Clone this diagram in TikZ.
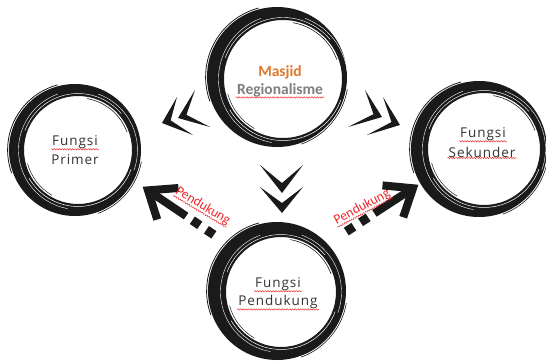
\documentclass[tikz,border=0pt]{standalone}
\usepackage{fontspec}
\setmainfont{Open Sans}
\newfontfamily\fungsifont[LetterSpace=7]{Open Sans}
\newfontfamily\calfont{Carlito}
\usetikzlibrary{decorations.pathmorphing}

\definecolor{inkblack}{HTML}{1A1A1A}
\definecolor{titleorange}{HTML}{E0782A}
\definecolor{titlegray}{HTML}{7F7F7F}
\definecolor{labelred}{HTML}{F0282D}
\definecolor{textgray}{HTML}{333333}

% brush-stroke ring: outer circle (#1,#2) radius #3, hole (#4,#5) radius #6
\newcommand\brushring[6]{%
  \fill[inkblack, even odd rule] (#1,#2) circle[radius=#3] (#4,#5) circle[radius=#6];
  \pgfmathsetmacro\rra{#6+2.5}%
  \pgfmathsetmacro\rrb{#6+5.5}%
  \pgfmathsetmacro\rrc{#6-1.8}%
  \pgfmathsetmacro\rrd{#3+1.4}%
  \draw[white, line width=0.5] (#4,#5) ++(20:\rra) arc[start angle=20, end angle=150, radius=\rra];
  \draw[white, line width=0.45] (#4,#5) ++(200:\rra) arc[start angle=200, end angle=320, radius=\rra];
  \draw[white, line width=0.4] (#4,#5) ++(100:\rrb) arc[start angle=100, end angle=250, radius=\rrb];
  \draw[white, line width=0.4] (#4,#5) ++(290:\rrb) arc[start angle=290, end angle=380, radius=\rrb];
  \draw[inkblack, line width=0.6] (#4,#5) ++(280:\rrc) arc[start angle=280, end angle=340, radius=\rrc];
  \draw[inkblack, line width=0.5] (#4,#5) ++(120:\rrc) arc[start angle=120, end angle=165, radius=\rrc];
  \draw[inkblack, line width=0.8] (#1,#2) ++(160:\rrd) arc[start angle=160, end angle=255, radius=\rrd];
  \draw[inkblack, line width=0.6] (#1,#2) ++(10:\rrd) arc[start angle=10, end angle=70, radius=\rrd];
}

\tikzset{
  fungsi/.style={font=\fungsifont\fontsize{13.5}{15}\selectfont, text=textgray, inner sep=1pt},
  spell/.style={draw=labelred, line width=0.45pt,
    decorate, decoration={snake, amplitude=0.7pt, segment length=2.6pt}},
  pendukung/.style={font=\calfont\fontsize{13.5}{15}\selectfont, text=labelred, inner sep=0.5pt},
  dotarrow/.pic={
    \draw[inkblack, line width=8, line join=miter, line cap=butt]
      (-30,-19) -- (-6,0) -- (-30,19);
    \draw[inkblack, line width=8, line cap=butt] (-8,0) -- (-52,0);
    \fill[inkblack] (-64,0) +(-4.5,-4.5) rectangle +(4.5,4.5);
    \fill[inkblack] (-81,0) +(-4.5,-4.5) rectangle +(4.5,4.5);
  }
}

\begin{document}
\begin{tikzpicture}[x=1pt, y=-1pt]
  \useasboundingbox (0,0) rectangle (546,362);
  \fill[white] (0,0) rectangle (546,362);

  % circles
  \brushring{277}{77}{70}{283}{79}{59}
  \brushring{75}{150}{66}{78}{150}{54}
  \brushring{479}{149}{68}{484}{149}{56}
  \brushring{277}{291}{69}{281}{292}{55}

  % top title
  \node[font=\calfont\bfseries\fontsize{15.5}{17}\selectfont, text=titleorange, inner sep=1pt]
    (masjid) at (280,72) {Masjid};
  \node[font=\calfont\bfseries\fontsize{15.5}{17}\selectfont, text=titlegray, inner sep=1pt]
    (regional) at (280,90) {Regionalisme};
  \draw[spell] ([yshift=0.5pt]regional.south west) -- ([yshift=0.5pt]regional.south east);

  % left circle
  \node[fungsi] (pf) at (75,142) {Fungsi};
  \node[fungsi] (pp) at (75,160) {Primer};
  \draw[spell] ([yshift=0.5pt]pf.south west) -- ([yshift=0.5pt]pf.south east);

  % right circle
  \node[fungsi] (sf) at (483,134) {Fungsi};
  \node[fungsi] (sk) at (482,152) {Sekunder};
  \draw[spell] ([yshift=0.5pt]sf.south west) -- ([yshift=0.5pt]sf.south east);
  \draw[spell] ([yshift=0.5pt]sk.south west) -- ([yshift=0.5pt]sk.south east);

  % bottom circle
  \node[fungsi] (bf) at (278,284) {Fungsi};
  \node[fungsi] (bp) at (278,302) {Pendukung};
  \draw[spell] ([yshift=0.5pt]bf.south west) -- ([yshift=0.5pt]bf.south east);
  \draw[spell] ([yshift=0.5pt]bp.south west) -- ([yshift=0.5pt]bp.south east);

  % chevrons towards the left circle
  \fill[inkblack] (177,97) -- (162,123) -- (193,135) -- (170.6,120.4) -- cycle;
  \fill[inkblack] (195,90) -- (178,118) -- (210,127) -- (186.4,114.8) -- cycle;
  % chevrons towards the right circle
  \fill[inkblack] (365,90) -- (382,117) -- (348,127) -- (373.5,114.2) -- cycle;
  \fill[inkblack] (383,97) -- (400,125) -- (367,135) -- (391.5,122) -- cycle;
  % chevrons towards the bottom circle
  \fill[inkblack] (260,165) -- (282,193) -- (303,165) -- (282,183) -- cycle;
  \fill[inkblack] (260,187) -- (282,213) -- (303,187) -- (282,203) -- cycle;

  % dotted support arrows
  \pic[rotate=146] at (143,187) {dotarrow};
  \pic[rotate=33] at (418,185) {dotarrow};

  \node[pendukung, rotate=-31] (lpend) at (203,206) {Pendukung};
  \draw[spell] ([yshift=0.3pt]lpend.south west) -- ([yshift=0.3pt]lpend.south east);
  \node[pendukung, rotate=28] (rpend) at (362,207) {Pendukung};
  \draw[spell] ([yshift=0.3pt]rpend.south west) -- ([yshift=0.3pt]rpend.south east);
\end{tikzpicture}
\end{document}
